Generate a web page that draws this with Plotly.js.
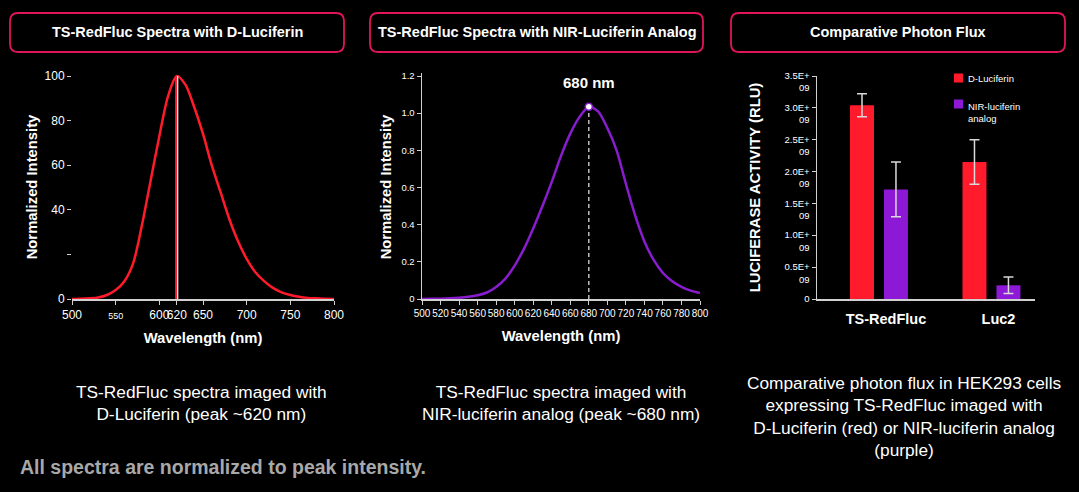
<!DOCTYPE html>
<html>
<head>
<meta charset="utf-8">
<script src="https://cdn.plot.ly/plotly-3.0.1.min.js"></script>
<style>
html,body{margin:0;padding:0;background:#000;overflow:hidden;}
#chart{width:1079px;height:492px;}
</style>
</head>
<body>
<div id="chart"></div>
<script>
// ---------- DATA ----------
const panelTitles = ['TS-RedFluc Spectra with D-Luciferin', 'TS-RedFluc Spectra with NIR-Luciferin Analog', 'Comparative Photon Flux'];
const captions = [
  'TS-RedFluc spectra imaged with<br>D-Luciferin (peak ~620 nm)',
  'TS-RedFluc spectra imaged with<br>NIR-luciferin analog (peak ~680 nm)',
  'Comparative photon flux in HEK293 cells<br>expressing TS-RedFluc imaged with<br>D-Luciferin (red) or NIR-luciferin analog<br>(purple)'
];
const footnote = 'All spectra are normalized to peak intensity.';

// Panel 1: D-Luciferin spectrum
const wavelength1 = [500,510,520,530,540,550,560,570,580,590,600,610,620,630,640,650,660,670,680,690,700,710,720,730,740,750,760,770,780,790,800];
const intensity1  = [0,0.1,0.3,0.7,1.8,4,8,16,33,53,73,91,100,96,86,74,60,48,36,26,18,12,8,5,3,1.8,1,0.5,0.3,0.1,0];
const peak1 = 620;
const peak1Value = 100;
const x1TickVals = [500,550,600,620,650,700,750,800];
const x1TickText = ['500','<span style="font-size:9px">550</span>','600','620','650','700','750','800'];
const y1TickVals = [0,20,40,60,80,100];
const y1TickText = ['0','','40','60','80','100'];

// Panel 2: NIR-luciferin analog spectrum
const wavelength2 = [500,510,520,530,540,550,560,570,580,590,600,610,620,630,640,650,660,670,680,690,700,710,720,730,740,750,760,770,780,790,800];
const intensity2  = [0,0.001,0.002,0.004,0.007,0.012,0.02,0.035,0.065,0.11,0.18,0.27,0.38,0.50,0.63,0.77,0.89,0.98,1.035,1.01,0.92,0.80,0.62,0.45,0.31,0.21,0.14,0.095,0.065,0.045,0.032];
const peak2 = 680;
const peak2Value = 1.035;
const peak2Label = '680 nm';
const x2TickVals = [500,520,540,560,580,600,620,640,660,680,700,720,740,760,780,800];
const y2TickVals = [0,0.2,0.4,0.6,0.8,1.0,1.2];
const y2TickText = ['0','0.2','0.4','0.6','0.8','1.0','1.2'];

// Panel 3: photon flux
const constructs = ['TS-RedFluc', 'Luc2'];
const seriesNames = ['D-Luciferin', 'NIR-luciferin<br>analog'];
const dLuciferin    = [3.04e9, 2.15e9];
const dLuciferinErr = [0.18e9, 0.35e9];
const nirAnalog     = [1.72e9, 0.215e9];
const nirAnalogErr  = [0.43e9, 0.13e9];
const y3TickVals = [0,0.5e9,1.0e9,1.5e9,2.0e9,2.5e9,3.0e9,3.5e9];
const y3TickText = ['0<br>\u00a0','0.5E+<br>09','1.0E+<br>09','1.5E+<br>09','2.0E+<br>09','2.5E+<br>09','3.0E+<br>09','3.5E+<br>09'];

// ---------- STYLE / LAYOUT ----------
const W = 1079, H = 492;
const fx = p => p / W;
const fy = p => 1 - p / H;
const RED = '#ff1b2b';
const PURPLE = '#8d18d6';
const AXC = '#d0d0d0';
const FONT = 'Liberation Sans, Arial, Helvetica, sans-serif';

// pixel geometry of plot areas
const P1 = {l:72, r:334}, P2 = {l:422, r:700}, P3 = {l:817, r:1035};
const plotTop = 76, plotBottom = 299, padT = 3, padB = 2;
function paddedRange(lo, hi) {
  const ppu = (plotBottom - plotTop) / (hi - lo);
  return [lo - padB / ppu, hi + padT / ppu];
}
const yDomPad = [fy(plotBottom + padB), fy(plotTop - padT)];

const traces = [
  {x: wavelength1, y: intensity1, xaxis:'x', yaxis:'y', type:'scatter', mode:'lines',
   line:{color:RED, width:2.5, shape:'spline', smoothing:0.8}, showlegend:false},
  {x: wavelength2, y: intensity2, xaxis:'x2', yaxis:'y2', type:'scatter', mode:'lines',
   line:{color:'#8a1ccf', width:2.5, shape:'spline', smoothing:0.8}, showlegend:false},
  {x: [peak2], y: [peak2Value], xaxis:'x2', yaxis:'y2', type:'scatter', mode:'markers',
   marker:{color:'#ffffff', size:7, line:{color:'#8a1ccf', width:1.5}}, showlegend:false, cliponaxis:false},
  {x: constructs, y: dLuciferin, name: seriesNames[0], xaxis:'x3', yaxis:'y3', type:'bar',
   marker:{color:RED}, showlegend:false,
   error_y:{type:'data', array:dLuciferinErr, visible:true, color:'#d9d9d9', thickness:1.5, width:5}},
  {x: constructs, y: nirAnalog, name: seriesNames[1], xaxis:'x3', yaxis:'y3', type:'bar',
   marker:{color:PURPLE}, showlegend:false,
   error_y:{type:'data', array:nirAnalogErr, visible:true, color:'#d9d9d9', thickness:1.5, width:5}}
];

function roundRect(x0, y0, x1, y1, r) {
  const X = p => fx(p).toFixed(5), Y = p => fy(p).toFixed(5);
  return 'M' + X(x0 + r) + ',' + Y(y0) +
    ' L' + X(x1 - r) + ',' + Y(y0) + ' Q' + X(x1) + ',' + Y(y0) + ' ' + X(x1) + ',' + Y(y0 + r) +
    ' L' + X(x1) + ',' + Y(y1 - r) + ' Q' + X(x1) + ',' + Y(y1) + ' ' + X(x1 - r) + ',' + Y(y1) +
    ' L' + X(x0 + r) + ',' + Y(y1) + ' Q' + X(x0) + ',' + Y(y1) + ' ' + X(x0) + ',' + Y(y1 - r) +
    ' L' + X(x0) + ',' + Y(y0 + r) + ' Q' + X(x0) + ',' + Y(y0) + ' ' + X(x0 + r) + ',' + Y(y0) + ' Z';
}
const boxes = [[10,13,344,52],[370,13,703,52],[731,13,1065,52]];

const shapes = [];
boxes.forEach(b => shapes.push({type:'path', xref:'paper', yref:'paper', path: roundRect(b[0],b[1],b[2],b[3],8),
  line:{color:'#e0155c', width:1.8}, fillcolor:'rgba(0,0,0,0)', layer:'above'}));
// peak markers
shapes.push({type:'line', xref:'x', yref:'y', x0:peak1-0.8, x1:peak1-0.8, y0:0, y1:peak1Value, line:{color:RED, width:2}, layer:'above'});
shapes.push({type:'line', xref:'x', yref:'y', x0:peak1+1.0, x1:peak1+1.0, y0:0, y1:peak1Value, line:{color:'#f0f0f0', width:1.3}, layer:'above'});
shapes.push({type:'line', xref:'x2', yref:'y2', x0:peak2, x1:peak2, y0:0, y1:peak2Value, line:{color:'#bdbdbd', width:1.5, dash:'4px,3px'}, layer:'below'});
// legend swatches (panel 3)
shapes.push({type:'rect', xref:'paper', yref:'paper', x0:fx(954), x1:fx(963), y0:fy(82.5), y1:fy(73.5), fillcolor:RED, line:{width:0}});
shapes.push({type:'rect', xref:'paper', yref:'paper', x0:fx(954), x1:fx(963), y0:fy(108.5), y1:fy(99.5), fillcolor:PURPLE, line:{width:0}});

const annotations = [];
const boxCenters = [177, 536.5, 898];
panelTitles.forEach((t, i) => annotations.push({text: t, xref:'paper', yref:'paper', x: fx(boxCenters[i]), y: fy(32.5),
  xanchor:'center', yanchor:'middle', showarrow:false, font:{family:FONT, size:14.5, color:'#ffffff', weight:'bold'}}));
const capPos = [[201, 403], [561, 403], [904, 416]];
captions.forEach((t, i) => annotations.push({text: t, xref:'paper', yref:'paper', x: fx(capPos[i][0]), y: fy(capPos[i][1]),
  xanchor:'center', yanchor:'middle', align:'center', showarrow:false, font:{family:FONT, size:17.3, color:'#ffffff'}}));
annotations.push({text: footnote, xref:'paper', yref:'paper', x: fx(18), y: fy(467), xanchor:'left', yanchor:'middle',
  showarrow:false, font:{family:FONT, size:19.5, color:'#a8a8a8', weight:'bold'}});
annotations.push({text: peak2Label, xref:'x2', yref:'y2', x: peak2, y: peak2Value, yshift: 24, xanchor:'center', yanchor:'middle',
  showarrow:false, font:{family:FONT, size:15, color:'#ffffff', weight:'bold'}});
// legend labels
annotations.push({text: seriesNames[0], xref:'paper', yref:'paper', x: fx(966), y: fy(78), xanchor:'left', yanchor:'middle',
  showarrow:false, font:{family:FONT, size:9.5, color:'#ffffff'}});
annotations.push({text: seriesNames[1], xref:'paper', yref:'paper', x: fx(966), y: fy(99), xanchor:'left', yanchor:'top', align:'left',
  showarrow:false, font:{family:FONT, size:9.5, color:'#ffffff'}});

const tickFont12 = {family:FONT, size:12, color:'#ffffff'};
const tickFont10 = {family:FONT, size:10, color:'#ffffff'};
const titleFont = {family:FONT, size:14.8, color:'#ffffff', weight:'bold'};

const layout = {
  width: W, height: H,
  margin: {l:0, r:0, t:0, b:0, pad:0},
  paper_bgcolor: '#000000', plot_bgcolor: '#000000',
  font: {family: FONT, color:'#ffffff'},
  showlegend: false,
  barmode: 'group', bargap: 0.396, bargroupgap: 0.294,
  // Panel 1
  xaxis: {domain:[fx(P1.l), fx(P1.r)], range:[500,800], anchor:'free', position: fy(plotBottom),
    tickvals:x1TickVals, ticktext:x1TickText, tickangle:0, ticks:'outside', ticklen:4, tickwidth:1, tickcolor:AXC,
    showline:true, linecolor:AXC, linewidth:1.5, showgrid:false, zeroline:false, tickfont:tickFont12,
    title:{text:'Wavelength (nm)', font:titleFont, standoff:11}},
  yaxis: {domain:yDomPad, range:paddedRange(0,100), anchor:'x',
    tickvals:y1TickVals, ticktext:y1TickText, ticks:'outside', ticklen:4, tickwidth:1, tickcolor:AXC,
    showline:false, showgrid:false, zeroline:false, tickfont:tickFont12,
    title:{text:'Normalized Intensity', font:titleFont, standoff:3}},
  // Panel 2
  xaxis2: {domain:[fx(P2.l), fx(P2.r)], range:[500,800], anchor:'free', position: fy(plotBottom),
    tickvals:x2TickVals, tickangle:0, ticks:'outside', ticklen:4, tickwidth:1, tickcolor:AXC,
    showline:true, linecolor:AXC, linewidth:1.5, showgrid:false, zeroline:false, tickfont:tickFont10,
    title:{text:'Wavelength (nm)', font:titleFont, standoff:13}},
  yaxis2: {domain:yDomPad, range:paddedRange(0,1.2), anchor:'x2',
    tickvals:y2TickVals, ticktext:y2TickText, ticks:'outside', ticklen:4, tickwidth:1, tickcolor:AXC,
    showline:true, linecolor:AXC, linewidth:1.5, showgrid:false, zeroline:false, tickfont:{family:FONT, size:9.5, color:'#ffffff'},
    title:{text:'Normalized Intensity', font:titleFont, standoff:6}},
  // Panel 3
  xaxis3: {domain:[fx(P3.l), fx(P3.r)], range:[-0.551, 1.387], anchor:'y3', type:'category',
    ticks:'', showline:true, linecolor:AXC, linewidth:1.5, showgrid:false, zeroline:false, tickangle:0,
    ticklabelstandoff: 6, ticklabelshift: 7,
    tickfont:{family:FONT, size:14.5, color:'#ffffff', weight:'bold'}},
  yaxis3: {domain:[fy(plotBottom), fy(plotTop)], range:[0, 3.5e9], anchor:'x3',
    tickvals:y3TickVals, ticktext:y3TickText, ticks:'outside', ticklen:4, tickwidth:1, tickcolor:AXC,
    showline:true, linecolor:AXC, linewidth:1.5, showgrid:false, zeroline:false,
    ticklabelshift: 6,
    tickfont:{family:FONT, size:9.5, color:'#ffffff'},
    title:{text:'LUCIFERASE ACTIVITY (RLU)', font:{family:FONT, size:14.8, color:'#ffffff', weight:'bold'}, standoff:20}},
  shapes: shapes,
  annotations: annotations
};

Plotly.newPlot('chart', traces, layout, {displayModeBar:false, staticPlot:true});
</script>
</body>
</html>
